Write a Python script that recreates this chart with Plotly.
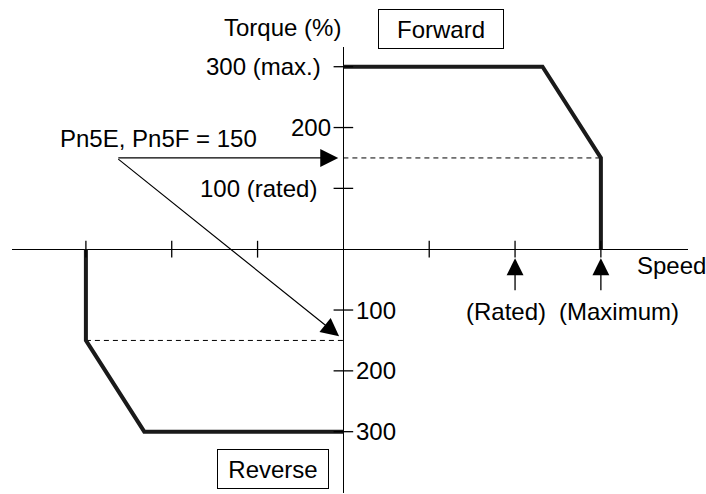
import plotly.graph_objects as go

# torque limit diagram, values in % of rated torque, speed in tick units
speed_ticks = [-3, -2, -1, 1, 2, 3]
torque_ticks = [300, 200, 100, -100, -200, -300]
torque_labels = ['300 (max.)', '200', '100 (rated)', '100', '200', '300']

forward_speed = [0, 2.32, 3, 3]
forward_torque = [300, 300, 150, 0]
reverse_speed = [-3, -3, -2.32, 0]
reverse_torque = [0, -150, -300, -300]

limit_torque = 150
rated_speed = 2
max_speed = 3

FONT = dict(family='Liberation Sans, Arial, sans-serif', size=24, color='black')

fig = go.Figure()

# dashed limit lines
fig.add_trace(go.Scatter(x=[0, max_speed], y=[limit_torque, limit_torque], mode='lines',
                         line=dict(color='black', width=1, dash='5px,4px')))
fig.add_trace(go.Scatter(x=[-max_speed, 0], y=[-limit_torque, -limit_torque], mode='lines',
                         line=dict(color='black', width=1, dash='5px,4px')))

# torque curves
fig.add_trace(go.Scatter(x=forward_speed, y=forward_torque, mode='lines',
                         line=dict(color='#1a1a1a', width=4)))
fig.add_trace(go.Scatter(x=reverse_speed, y=reverse_torque, mode='lines',
                         line=dict(color='#1a1a1a', width=4)))

# tick marks crossing the axes
fig.add_trace(go.Scatter(x=speed_ticks, y=[0] * len(speed_ticks), mode='markers',
                         marker=dict(symbol='line-ns', size=12, line=dict(color='black', width=1.3))))
fig.add_trace(go.Scatter(x=[0] * len(torque_ticks), y=torque_ticks, mode='markers',
                         marker=dict(symbol='line-ew', size=14, line=dict(color='black', width=1.3))))

annotations = []

# tick labels, positive on left side of the axis, negative on the right
label_shift = [-20, -10, -24, 11, 11, 11]
for t, lab, sh in zip(torque_ticks, torque_labels, label_shift):
    annotations.append(dict(x=0, y=t, text=lab, showarrow=False, font=FONT,
                            xanchor='right' if sh < 0 else 'left', yanchor='middle', xshift=sh))

# Pn5E/Pn5F note and its arrows
annotations.append(dict(x=-3.33, y=182, text='Pn5E, Pn5F = 150', showarrow=False, font=FONT,
                        xanchor='left', yanchor='middle'))
annotations.append(dict(x=-0.06, y=limit_torque, ax=-2.64, ay=limit_torque, axref='x', ayref='y',
                        text='', showarrow=True, arrowhead=2, arrowsize=3, arrowwidth=1.2,
                        arrowcolor='black'))
annotations.append(dict(x=-0.05, y=-limit_torque + 7, ax=-2.64, ay=limit_torque, axref='x', ayref='y',
                        text='', showarrow=True, arrowhead=2, arrowsize=3, arrowwidth=1.2,
                        arrowcolor='black'))

# rated / maximum speed pointers
for sp in [rated_speed, max_speed]:
    annotations.append(dict(x=sp, y=-15, ax=sp, ay=-70, axref='x', ayref='y', text='',
                            showarrow=True, arrowhead=2, arrowsize=2.6, arrowwidth=1.3,
                            arrowcolor='black'))
annotations.append(dict(x=rated_speed, y=-103, text='(Rated)', showarrow=False, font=FONT, xshift=-9))
annotations.append(dict(x=max_speed, y=-103, text='(Maximum)', showarrow=False, font=FONT, xshift=18))

annotations.append(dict(x=3.40, y=-26, text='Speed', showarrow=False, font=FONT, xanchor='left'))
annotations.append(dict(x=0, xref='x', y=1.0448, yref='paper', text='Torque (%)', showarrow=False,
                        font=FONT, xanchor='right', yanchor='middle'))
annotations.append(dict(x=1.142, xref='x', y=1.0404, yref='paper', text='Forward', showarrow=False,
                        font=FONT, xanchor='center', yanchor='middle',
                        bordercolor='black', borderwidth=1, borderpad=0, width=124, height=38))
annotations.append(dict(x=-0.816, y=-360.7, text='Reverse', showarrow=False, font=FONT,
                        xanchor='center', yanchor='middle',
                        bordercolor='black', borderwidth=1, borderpad=0, width=110, height=38))

fig.update_layout(
    width=706, height=494,
    margin=dict(l=12, r=18, t=47, b=1),
    paper_bgcolor='white', plot_bgcolor='white',
    showlegend=False,
    annotations=annotations,
    font=FONT,
)
fig.update_xaxes(range=[-3.861, 4.015], showgrid=False, showticklabels=False, ticks='',
                 zeroline=True, zerolinecolor='black', zerolinewidth=1.3, showline=False)
fig.update_yaxes(range=[-400.8, 332.4], showgrid=False, showticklabels=False, ticks='',
                 zeroline=True, zerolinecolor='black', zerolinewidth=1.3, showline=False)
fig.update_traces(hoverinfo='skip', cliponaxis=False)

# page body margin would shift the 706x494 figure, so drop it
fig.write_html('out.html', config={'displayModeBar': False},
               post_script="document.body.style.margin='0';")
